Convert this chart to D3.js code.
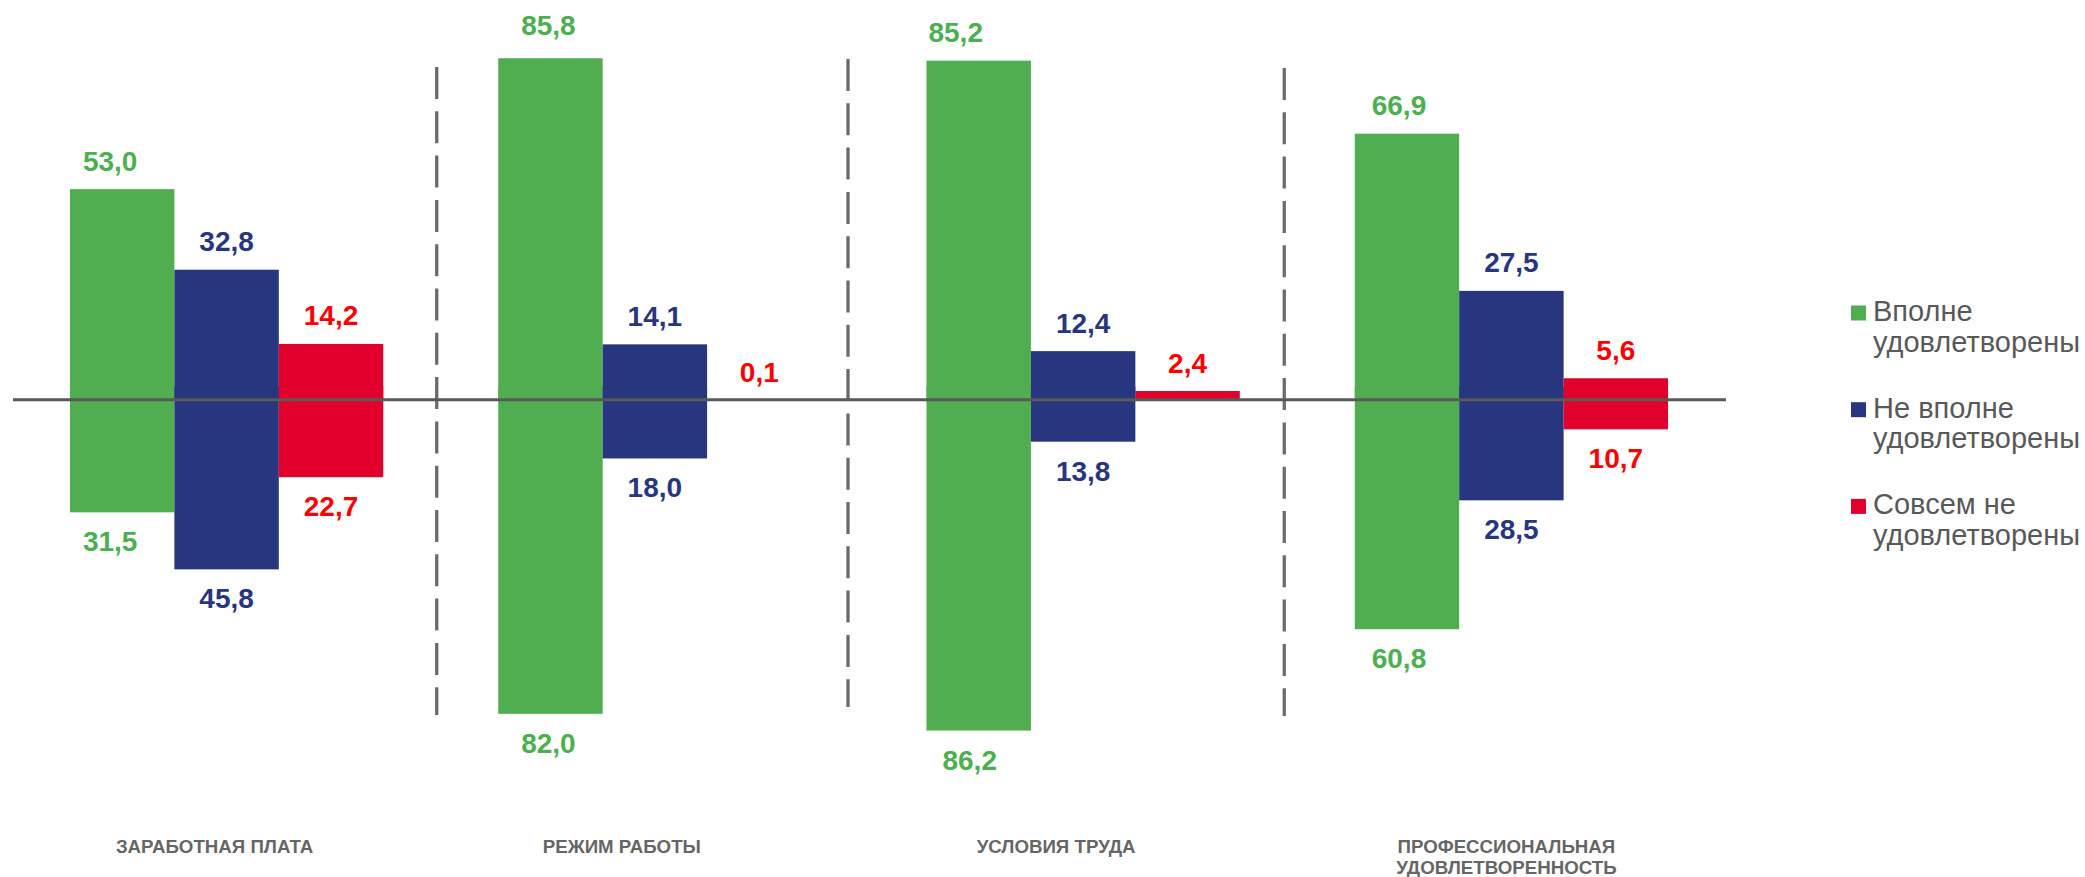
<!DOCTYPE html>
<html>
<head>
<meta charset="utf-8">
<script src="https://cdn.jsdelivr.net/npm/d3@7"></script>
<style>
  html, body { margin: 0; padding: 0; background: #fff; }
  svg { display: block; }
  text { font-family: "Liberation Sans", Arial, sans-serif; }
</style>
</head>
<body>
<svg id="chart" width="2085" height="877"></svg>
<script>
// ---- data ----
const categories = ["ЗАРАБОТНАЯ ПЛАТА", "РЕЖИМ РАБОТЫ", "УСЛОВИЯ ТРУДА", "ПРОФЕССИОНАЛЬНАЯ\nУДОВЛЕТВОРЕННОСТЬ"];
const seriesKeys = ["full", "partly", "none"];
const seriesNames = ["Вполне\nудовлетворены", "Не вполне\nудовлетворены", "Совсем не\nудовлетворены"];
const fullUp = [53.0, 85.8, 85.2, 66.9];
const fullDown = [31.5, 82.0, 86.2, 60.8];
const partlyUp = [32.8, 14.1, 12.4, 27.5];
const partlyDown = [45.8, 18.0, 13.8, 28.5];
const noneUp = [14.2, 0.1, 2.4, 5.6];
const noneDown = [22.7, null, null, 10.7];

// ---- styles / layout ----
const barColors = { full: "#50AE51", partly: "#28367F", none: "#E0002B" };
const textColors = { full: "#4CAF50", partly: "#28367F", none: "#FF0000" };
const greenLabelDx = [[-12, -12], [-2, -2], [-23, -9], [-8, -8]];
const greenLabelDy = [0, -5, 0, 0];
const catLabelDx = [-12, -33, -27, -5];
const dividerDx = [-4, -21, -13];
const dividerTop = [67, 59, 68];
const NEG_OVERLAP = 3.5; // lower bars start slightly above the axis

const upByKey = { full: fullUp, partly: partlyUp, none: noneUp };
const downByKey = { full: fullDown, partly: partlyDown, none: noneDown };

const svg = d3.select("#chart");

const x = d3.scaleBand()
  .domain(categories)
  .range([13, 1725])
  .paddingInner(0.2685)
  .paddingOuter(0.133);

const xs = d3.scaleBand().domain(seriesKeys).range([0, x.bandwidth()]).padding(0);

const y = d3.scaleLinear().domain([-100, 100]).range([400.6 + 399, 400.6 - 399]);

const rows = [];
categories.forEach((c, i) => {
  seriesKeys.forEach(k => {
    rows.push({ cat: c, ci: i, key: k, up: upByKey[k][i], down: downByKey[k][i] });
  });
});

// bars
const g = svg.append("g");
g.selectAll("rect.up").data(rows).join("rect")
  .attr("class", "up")
  .attr("x", d => x(d.cat) + xs(d.key))
  .attr("width", xs.bandwidth())
  .attr("y", d => y(d.up))
  .attr("height", d => y(0) - y(d.up))
  .attr("fill", d => barColors[d.key]);

g.selectAll("rect.down").data(rows.filter(d => d.down != null)).join("rect")
  .attr("class", "down")
  .attr("x", d => x(d.cat) + xs(d.key))
  .attr("width", xs.bandwidth())
  .attr("y", d => y(NEG_OVERLAP))
  .attr("height", d => y(NEG_OVERLAP - d.down) - y(NEG_OVERLAP))
  .attr("fill", d => barColors[d.key]);

// dividers
const dividers = [0, 1, 2].map(i => ({
  x: (x(categories[i]) + x.bandwidth() + x(categories[i + 1])) / 2 + dividerDx[i],
  top: dividerTop[i]
}));
svg.selectAll("line.div").data(dividers).join("line")
  .attr("class", "div")
  .attr("x1", d => d.x).attr("x2", d => d.x)
  .attr("y1", d => d.top).attr("y2", d => d.top + 648)
  .attr("stroke", "#6B6B6B")
  .attr("stroke-width", 3.3)
  .attr("stroke-dasharray", "32 12.3");

// zero line
svg.append("line")
  .attr("x1", x.range()[0]).attr("x2", x.range()[1] + 1)
  .attr("y1", y(0.2)).attr("y2", y(0.2))
  .attr("stroke", "#595959")
  .attr("stroke-width", 3);

const fmt = v => v.toFixed(1).replace(".", ",");
const dxFor = (d, idx) => d.key === "full" ? greenLabelDx[d.ci][idx] : 0;

// value labels
svg.selectAll("text.vu").data(rows).join("text")
  .attr("class", "vu")
  .attr("x", d => x(d.cat) + xs(d.key) + xs.bandwidth() / 2 + dxFor(d, 0))
  .attr("y", d => y(d.up) - 18.5 + (d.key === "full" ? greenLabelDy[d.ci] : 0))
  .attr("text-anchor", "middle")
  .attr("font-size", 28)
  .attr("font-weight", "bold")
  .attr("fill", d => textColors[d.key])
  .text(d => fmt(d.up));

svg.selectAll("text.vd").data(rows.filter(d => d.down != null)).join("text")
  .attr("class", "vd")
  .attr("x", d => x(d.cat) + xs(d.key) + xs.bandwidth() / 2 + dxFor(d, 1))
  .attr("y", d => y(NEG_OVERLAP - d.down) + 39)
  .attr("text-anchor", "middle")
  .attr("font-size", 28)
  .attr("font-weight", "bold")
  .attr("fill", d => textColors[d.key])
  .text(d => fmt(d.down));

// category labels
const catG = svg.selectAll("text.cat").data(categories).join("text")
  .attr("class", "cat")
  .attr("text-anchor", "middle")
  .attr("font-size", 18.7)
  .attr("font-weight", "bold")
  .attr("fill", "#666666");
catG.each(function (c, i) {
  const t = d3.select(this);
  c.split("\n").forEach((line, j) => {
    t.append("tspan")
      .attr("x", x(c) + x.bandwidth() / 2 + catLabelDx[i])
      .attr("y", 853 + j * 21)
      .text(line);
  });
});

// legend
const leg = svg.append("g").attr("transform", "translate(1851,0)");
const legItems = leg.selectAll("g").data(seriesKeys).join("g")
  .attr("transform", (d, i) => `translate(0,${321 + i * 96.7})`);
legItems.append("rect")
  .attr("x", 0).attr("y", -15.5).attr("width", 15).attr("height", 15)
  .attr("fill", d => barColors[d]);
legItems.append("text")
  .attr("font-size", 29)
  .attr("fill", "#595959")
  .each(function (d, i) {
    const t = d3.select(this);
    seriesNames[i].split("\n").forEach((line, j) => {
      t.append("tspan").attr("x", 22).attr("y", j * 30.7).text(line);
    });
  });
</script>
</body>
</html>
